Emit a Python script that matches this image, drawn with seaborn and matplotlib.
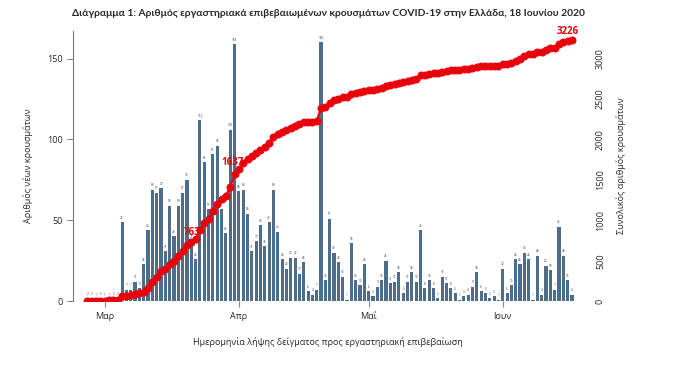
import pandas as pd
import matplotlib
matplotlib.use("Agg")
import matplotlib.pyplot as plt
import seaborn as sns

# daily new cases by sampling date, 26 Feb - 17 Jun 2020
new_cases = [2, 2, 1, 2, 1, 1, 2, 2, 49, 7,
             7, 12, 8, 23, 44, 69, 67, 70, 31, 59,
             40, 59, 67, 75, 37, 26, 112, 86, 57, 91,
             96, 57, 42, 106, 159, 68, 69, 54, 31, 37,
             47, 34, 49, 69, 43, 26, 20, 27, 27, 17,
             24, 6, 4, 7, 160, 13, 51, 30, 24, 15,
             1, 36, 13, 10, 23, 6, 3, 9, 13, 25,
             11, 12, 18, 5, 12, 18, 12, 44, 8, 13,
             8, 2, 15, 11, 8, 5, 1, 3, 4, 9,
             18, 6, 5, 2, 3, 1, 20, 5, 10, 26,
             23, 30, 26, 1, 28, 4, 22, 19, 7, 46,
             28, 13, 4]
start_date = "2020-02-26"
month_ticks = ["2020-03-01", "2020-04-01", "2020-05-01", "2020-06-01"]
month_labels = ["Μαρ", "Απρ", "Μαΐ", "Ιουν"]
highlight_days = [25, 35]  # cumulative labels shown on the line

title = "Διάγραμμα 1: Αριθμός εργαστηριακά επιβεβαιωμένων κρουσμάτων COVID-19 στην Ελλάδα, 18 Ιουνίου 2020"

dates = pd.date_range(start_date, periods=len(new_cases), freq="D")
df = pd.DataFrame({"day": range(len(new_cases)), "new": new_cases})
df["total"] = df["new"].cumsum()

bar_color = "#4d6d8c"
red = "#e8000b"

sns.set_style("white")
plt.rcParams["font.family"] = ["Open Sans", "DejaVu Sans"]

fig = plt.figure(figsize=(6.84, 3.70), dpi=100)
ax = fig.add_axes([0.107, 0.186, 0.745, 0.73])

sns.barplot(data=df, x="day", y="new", color=bar_color, native_scale=True,
            width=0.72, saturation=1, linewidth=0, ax=ax)
for d, v in zip(df["day"], df["new"]):
    ax.text(d, v + 1.5, str(v), ha="center", va="bottom", fontsize=2.2, color="#333333")

ax.set_ylim(0, 167)
ax.set_xlim(-3.3, 114.5)
ax.set_yticks([0, 50, 100, 150])
ax.set_ylabel("Αριθμός νέων κρουσμάτων", fontsize=6.5, labelpad=10)
ax.set_xlabel("Ημερομηνία λήψης δείγματος προς εργαστηριακή επιβεβαίωση", fontsize=6.5, labelpad=12)
tick_pos = [(pd.Timestamp(m) - dates[0]).days for m in month_ticks]
ax.set_xticks(tick_pos)
ax.set_xticklabels(month_labels)
ax.tick_params(axis="both", labelsize=6.5, length=4, color="#888888", direction="out")
ax.tick_params(axis="x", bottom=True)
ax.tick_params(axis="y", left=False)
for s in ["top", "right"]:
    ax.spines[s].set_visible(False)
ax.spines["left"].set_color("#777777")
ax.spines["bottom"].set_visible(False)

ax2 = ax.twinx()
sns.lineplot(data=df, x="day", y="total", color=red, marker="o", markersize=5,
             markeredgecolor=red, linewidth=1.6, ax=ax2, zorder=5)
ax2.set_ylim(0, 3340)
ax2.set_yticks([0, 500, 1000, 1500, 2000, 2500, 3000])
ax2.set_ylabel("Συνολικός αριθμός κρουσμάτων", fontsize=6.5, labelpad=8)
ax2.set_xlabel("")
ax2.tick_params(axis="y", labelsize=6.5, right=False, pad=6)
for lbl in ax2.get_yticklabels():
    lbl.set_rotation(90)
    lbl.set_va("center")
for s in ax2.spines.values():
    s.set_visible(False)

# labels sit partly under the markers, as in the original
for d in highlight_days:
    ax2.text(d + 1.2, df["total"][d] + 15, str(df["total"][d]), color=red, fontsize=7,
             fontweight="bold", ha="right", va="bottom", zorder=1)
last = df.index[-1]
ax2.text(last - 1, df["total"][last] + 40, str(df["total"][last]), color=red, fontsize=7,
         fontweight="bold", ha="center", va="bottom")

fig.suptitle(title, x=0.48, y=0.975, fontsize=7.4, fontweight="bold",
             family=["Lato", "Open Sans", "DejaVu Sans"])

fig.savefig("out.png", dpi=100)
plt.close(fig)
